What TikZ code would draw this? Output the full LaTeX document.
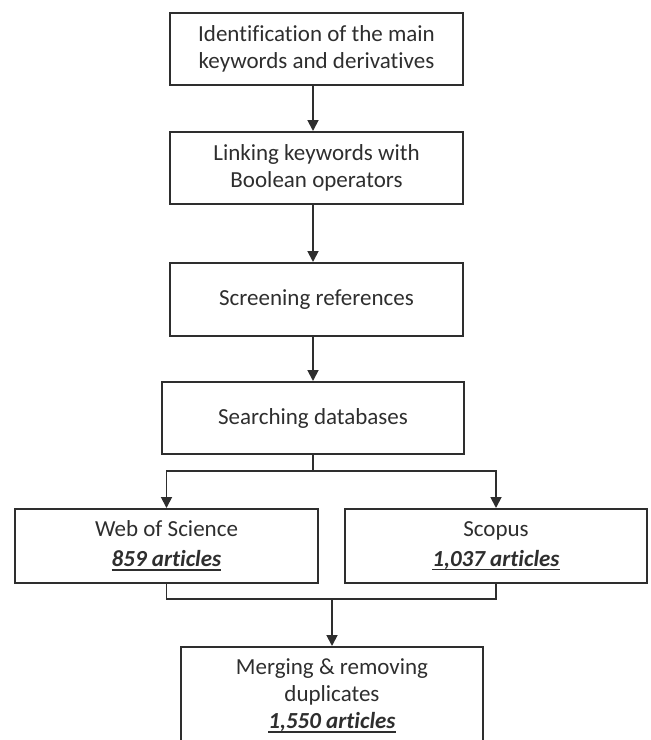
\documentclass[tikz,border=0pt]{standalone}
\usepackage{fontspec}
\setmainfont{Carlito}[Ligatures=NoCommon]
\usetikzlibrary{arrows.meta}
\definecolor{ink}{HTML}{2E2E2E}
\tikzset{
  x=1pt, y=-1pt,
  stepbox/.style={draw=ink, line width=2pt, rectangle, align=center, text=ink,
    font=\fontsize{23}{27}\selectfont, inner sep=0pt},
  link/.style={draw=ink, line width=1.8pt},
  arr/.style={link, -{Triangle[length=11pt,width=11pt]}}
}
% bold italic article count with a heavy underline
\newsavebox{\artbox}
\newcommand{\artcount}[1]{%
  \sbox{\artbox}{\textbf{\textit{#1}}}%
  \rlap{\usebox{\artbox}}\raisebox{-4pt}{\rule{\wd\artbox}{1.5pt}}}
\begin{document}
\begin{tikzpicture}
  \useasboundingbox (0,0) rectangle (651,740);
  \clip (0,0) rectangle (651,740);

  % main chain of steps
  \node[stepbox, minimum width=293pt, minimum height=72pt] (b1) at (316.5,49)
    {Identification of the main\\keywords and derivatives};
  \node[stepbox, minimum width=293pt, minimum height=72pt] (b2) at (316.5,168)
    {Linking keywords with\\Boolean operators};
  \node[stepbox, minimum width=293pt, minimum height=73pt] (b3) at (316.5,299.5)
    {Screening references};
  \node[stepbox, minimum width=302pt, minimum height=72pt] (b4) at (313,418)
    {Searching databases};

  % the two databases
  \node[stepbox, minimum width=303pt, minimum height=74pt] (wos) at (166.5,546)
    {Web of Science\\[3pt]\artcount{859 articles}};
  \node[stepbox, minimum width=302pt, minimum height=74pt] (scopus) at (496,546)
    {Scopus\\[3pt]\artcount{1,037 articles}};

  % merged result
  \node[stepbox, minimum width=302pt, minimum height=98pt] (merge) at (332,696)
    {Merging \& removing\\duplicates\\\artcount{1,550 articles}};

  \coordinate (split) at (313,471);
  \coordinate (join) at (332,599);

  % connectors
  \draw[arr] (b1.south -| b4) -- (b2.north -| b4);
  \draw[arr] (b2.south -| b4) -- (b3.north -| b4);
  \draw[arr] (b3.south -| b4) -- (b4.north);
  \draw[link] (b4.south) -- (split);
  \draw[arr] (split) -| (wos.north);
  \draw[arr] (split) -| (scopus.north);
  \draw[link] (wos.south) |- (join) -| (scopus.south);
  \draw[arr] (join) -- (merge.north);
\end{tikzpicture}
\end{document}
